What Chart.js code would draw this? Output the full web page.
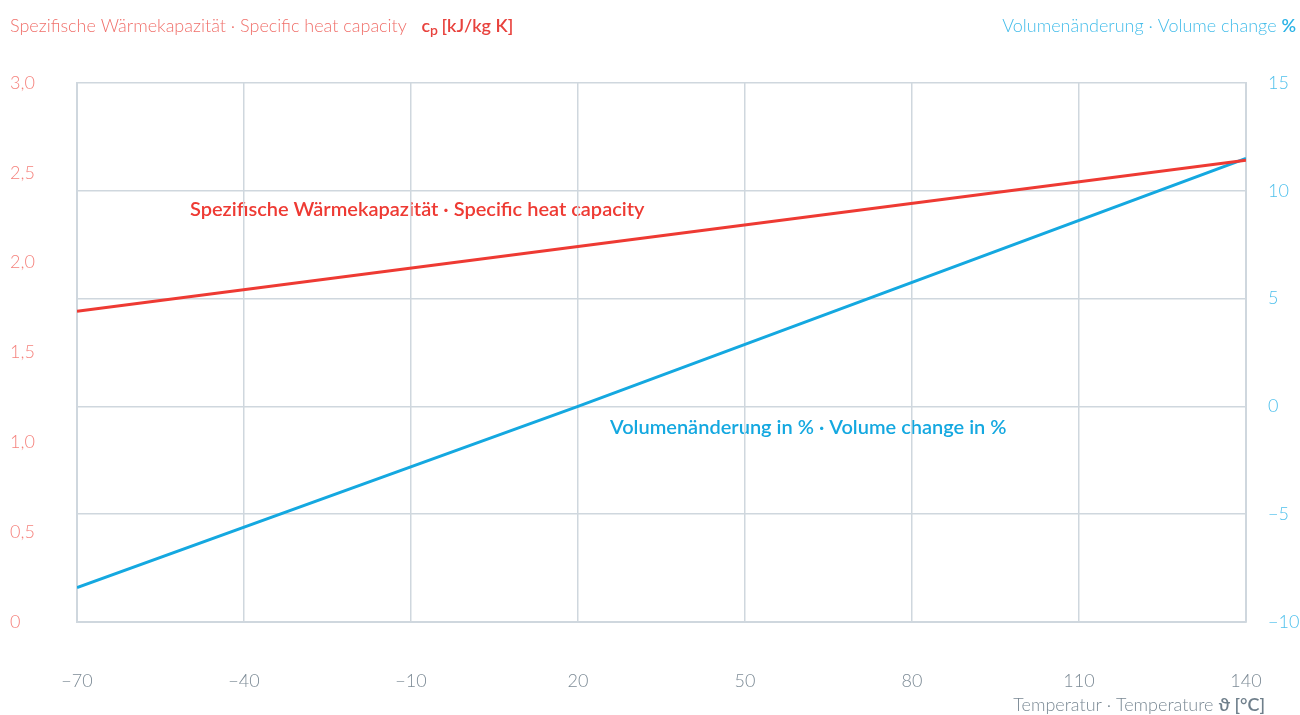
<!DOCTYPE html>
<html><head><meta charset="utf-8">
<script src="https://cdn.jsdelivr.net/npm/chart.js@4/dist/chart.umd.min.js"></script>
<style>html,body{margin:0;padding:0;background:#fff}#wrap{width:1300px;height:715px}</style>
</head><body><div id="wrap"><canvas id="c" width="1300" height="715"></canvas></div>
<script>
const temperatures = [-70, 20, 140];
const heatCapacity = [1.73, 2.09, 2.57];
const volumeChange = [-8.4, 0, 11.5];
const xTicks = [-70, -40, -10, 20, 50, 80, 110, 140];
const leftTicks = [0, 0.5, 1.0, 1.5, 2.0, 2.5, 3.0];
const rightTicks = [-10, -5, 0, 5, 10, 15];

const RED = '#ee3a33', BLUE = '#14a8e0', GRID = '#cfd7de';
const FONT = 'Lato, "Open Sans", sans-serif';
const minus = v => (v < 0 ? '\u2212' + Math.abs(v) : String(v));

const textPlugin = {
  id: 'texts',
  beforeDraw(chart) {
    const ctx = chart.ctx;
    ctx.save();
    ctx.textBaseline = 'middle';
    ctx.font = '600 20px ' + FONT;
    ctx.fillStyle = RED; ctx.textAlign = 'left';
    ctx.fillText('Spezifische Wärmekapazität · Specific heat capacity', 190, 210);
    ctx.fillStyle = BLUE;
    ctx.fillText('Volumenänderung in % · Volume change in %', 610, 428);
    ctx.restore();
  },
  afterDraw(chart) {
    const ctx = chart.ctx;
    ctx.save();
    ctx.textBaseline = 'middle';
    ctx.textAlign = 'left';
    ctx.font = '300 18px ' + FONT;
    ctx.fillStyle = '#f0706b';
    const t1 = 'Spezifische Wärmekapazität · Specific heat capacity   ';
    ctx.fillText(t1, 10, 26);
    let x = 10 + ctx.measureText(t1).width;
    ctx.font = '600 18px ' + FONT; ctx.fillStyle = '#e8423d';
    ctx.fillText('c', x, 26); x += ctx.measureText('c').width;
    ctx.font = '600 14px ' + FONT; ctx.fillText('p', x, 30); x += ctx.measureText('p ').width;
    ctx.font = '600 18px ' + FONT; ctx.fillText('[kJ/kg K]', x, 26);
    ctx.textAlign = 'right';
    ctx.font = '600 18px ' + FONT; ctx.fillStyle = '#2bb3e6';
    ctx.fillText('%', 1296, 26);
    const pw = ctx.measureText('%').width;
    ctx.font = '300 18px ' + FONT; ctx.fillStyle = '#45bdea';
    ctx.fillText('Volumenänderung · Volume change ', 1296 - pw, 26);
    ctx.font = '600 18px ' + FONT; ctx.fillStyle = '#6f7f8b';
    ctx.fillText('ϑ [°C]', 1265, 705);
    const uw = ctx.measureText('ϑ [°C]').width;
    ctx.font = '300 18px ' + FONT; ctx.fillStyle = '#7a8994';
    ctx.fillText('Temperatur · Temperature ', 1265 - uw, 705);
    ctx.restore();
  }
};

new Chart(document.getElementById('c'), {
  type: 'line',
  data: {
    datasets: [
      { label: 'cp', data: temperatures.map((t, i) => ({x: t, y: heatCapacity[i]})), borderColor: RED, borderWidth: 3, pointRadius: 0, yAxisID: 'y', tension: 0 },
      { label: 'vol', data: temperatures.map((t, i) => ({x: t, y: volumeChange[i]})), borderColor: BLUE, borderWidth: 3, pointRadius: 0, yAxisID: 'y2', tension: 0 }
    ]
  },
  options: {
    responsive: false, animation: false,
    layout: { padding: { left: 10, top: 83, right: 0, bottom: 0 } },
    plugins: { legend: { display: false }, tooltip: { enabled: false } },
    scales: {
      x: {
        type: 'linear', min: -70, max: 140,
        afterBuildTicks: s => { s.ticks = xTicks.map(v => ({value: v})); },
        afterFit: s => { s.height = 93; s.paddingLeft = 0; s.paddingRight = 0; },
        grid: { color: GRID, lineWidth: 1.5, drawTicks: false },
        border: { color: GRID, width: 2 },
        ticks: { color: '#7d8b96', font: { family: FONT, size: 18, weight: 300 }, padding: 48, maxRotation: 0, callback: v => minus(v) }
      },
      y: {
        position: 'left', min: 0, max: 3,
        afterBuildTicks: s => { s.ticks = leftTicks.map(v => ({value: v})); },
        afterFit: s => { s.width = 67; s.paddingTop = 0; s.paddingBottom = 0; },
        grid: { display: false, drawTicks: false },
        border: { display: true, color: GRID, width: 2 },
        ticks: { color: '#f5827d', crossAlign: 'far', font: { family: FONT, size: 18, weight: 300 }, callback: v => v === 0 ? '0' : v.toFixed(1).replace('.', ',') }
      },
      y2: {
        position: 'right', min: -10, max: 15,
        afterBuildTicks: s => { s.ticks = rightTicks.map(v => ({value: v})); },
        afterFit: s => { s.width = 54; s.paddingTop = 0; s.paddingBottom = 0; },
        grid: { display: true, color: GRID, lineWidth: 1.5, drawTicks: false },
        border: { color: GRID, width: 2 },
        ticks: { color: '#4fc0ec', padding: 22, font: { family: FONT, size: 18, weight: 300 }, callback: v => minus(v) }
      }
    }
  },
  plugins: [textPlugin]
});
</script>
</body></html>
